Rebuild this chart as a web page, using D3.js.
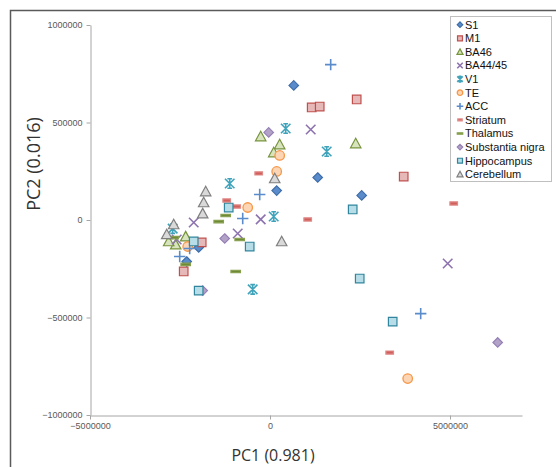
<!DOCTYPE html>
<html>
<head>
<meta charset="utf-8">
<script src="https://cdn.jsdelivr.net/npm/d3@7"></script>
<style>
  body { margin: 0; background: #fff; }
  svg { display: block; }
</style>
</head>
<body>
<div id="chart"></div>
<script>
// PCA scores per tissue, [PC1, PC2]
const S1 = [[660000, 690000], [1325000, 218000], [186000, 151000], [2547000, 126000], [-1981000, -141000], [-2314000, -213000]];
const M1 = [[1158000, 577000], [1381000, 582000], [2408000, 618000], [3714000, 223000], [-1897000, -115000], [-2397000, -264000]];
const BA46 = [[-258000, 428000], [269000, 387000], [103000, 346000], [2381000, 392000], [-2342000, -85000], [-2619000, -126000], [-2814000, -110000]];
const BA4445 = [[1131000, 464000], [4936000, -223000], [-258000, 3000], [-897000, -69000], [-2119000, -13000], [-2592000, -100000]];
const V1 = [[436000, 469000], [1575000, 351000], [-1119000, 187000], [103000, 18000], [-481000, -356000], [-2703000, -44000]];
const TE = [[269000, 331000], [186000, 249000], [-619000, 64000], [3825000, -813000], [-2286000, -136000]];
const ACC = [[1686000, 797000], [-286000, 131000], [-758000, 8000], [4186000, -480000], [-2508000, -187000], [-2231000, -146000]];
const Striatum = [[-314000, 239000], [-1203000, 100000], [-925000, 69000], [1047000, 3000], [5103000, 85000], [3325000, -680000]];
const Thalamus = [[-1231000, 23000], [-1425000, -8000], [-842000, -100000], [-953000, -264000], [-2342000, -228000], [-2675000, -90000]];
const SubstantiaNigra = [[-36000, 449000], [-1258000, -95000], [6325000, -628000], [-1869000, -362000]];
const Hippocampus = [[-1147000, 64000], [-564000, -136000], [2297000, 54000], [2492000, -300000], [3408000, -521000], [-2119000, -110000], [-1981000, -362000]];
const Cerebellum = [[-1786000, 146000], [-1842000, 90000], [-1869000, 33000], [-2675000, -23000], [-2869000, -74000], [131000, 213000], [325000, -110000]];

const seriesNames = ["S1", "M1", "BA46", "BA44/45", "V1", "TE", "ACC", "Striatum", "Thalamus", "Substantia nigra", "Hippocampus", "Cerebellum"];
const seriesData = [S1, M1, BA46, BA4445, V1, TE, ACC, Striatum, Thalamus, SubstantiaNigra, Hippocampus, Cerebellum];
const xTicks = [-5000000, 0, 5000000];
const yTicks = [-1000000, -500000, 0, 500000, 1000000];

// marker look for each series
const markers = [
  { shape: "diamond", fill: "#5a8ccb", stroke: "#3e6ea9" },
  { shape: "square", fill: "#e6b9b8", stroke: "#c0504d" },
  { shape: "triangle", fill: "#d7e4bd", stroke: "#77933c" },
  { shape: "x", fill: "none", stroke: "#8d73b0" },
  { shape: "star", fill: "none", stroke: "#3fa3bb" },
  { shape: "circle", fill: "#fcd5b5", stroke: "#f79646" },
  { shape: "plus", fill: "none", stroke: "#5a8ccb" },
  { shape: "dash", fill: "#d0605c", stroke: "#e08a88" },
  { shape: "bar", fill: "#6e8a36", stroke: "#86a04e" },
  { shape: "diamond", fill: "#b3a2c7", stroke: "#9680b5" },
  { shape: "square", fill: "#b7dde8", stroke: "#31859c" },
  { shape: "triangle", fill: "#d9d9d9", stroke: "#7f7f7f" }
];

function markerPath(shape, s) {
  switch (shape) {
    case "diamond": return `M0,${-5*s}L${5*s},0L0,${5*s}L${-5*s},0Z`;
    case "square": return `M${-4.5*s},${-4.5*s}h${9*s}v${9*s}h${-9*s}Z`;
    case "triangle": return `M0,${-5.5*s}L${5.5*s},${4.5*s}L${-5.5*s},${4.5*s}Z`;
    case "x": return `M${-5*s},${-5*s}L${5*s},${5*s}M${-5*s},${5*s}L${5*s},${-5*s}`;
    case "star": return `M${-5*s},${-5*s}L${5*s},${5*s}M${-5*s},${5*s}L${5*s},${-5*s}M0,${-5*s}L0,${5*s}M${-2.5*s},${-5*s}L${2.5*s},${-5*s}M${-2.5*s},${5*s}L${2.5*s},${5*s}`;
    case "plus": return `M${-6*s},0L${6*s},0M0,${-6*s}L0,${6*s}`;
    case "dash": return `M${-4*s},${-1.7*s}h${8*s}v${3.4*s}h${-8*s}Z`;
    case "bar": return `M${-5*s},${-1.3*s}h${10*s}v${2.6*s}h${-10*s}Z`;
  }
  return "";
}

function drawMarker(sel, m, s) {
  if (m.shape === "circle") {
    sel.append("circle").attr("r", 5 * s)
      .attr("fill", m.fill).attr("stroke", m.stroke).attr("stroke-width", 1.3);
  } else {
    const line = m.fill === "none";
    sel.append("path").attr("d", markerPath(m.shape, s))
      .attr("fill", m.fill).attr("stroke", m.stroke)
      .attr("stroke-width", line ? 1.6 : 1.2);
  }
}

const width = 556, height = 467;
const svg = d3.select("#chart").append("svg")
  .attr("width", width).attr("height", height);

// outer chart frame (cut off by the window at right and bottom)
svg.append("path")
  .attr("d", `M10.5,${height}V10.5H${width}`)
  .attr("fill", "none").attr("stroke", "#5a5a5a").attr("stroke-width", 1.5);

const x = d3.scaleLinear().domain([-5000000, 7000000]).range([90, 522]);
const y = d3.scaleLinear().domain([-1000000, 1000000]).range([415, 25]);

const axisColor = "#a6a6a6";

const yAxis = svg.append("g").attr("transform", "translate(90.5,0)")
  .call(d3.axisLeft(y).tickValues(yTicks).tickFormat(d3.format("d")).tickSize(4).tickSizeOuter(0).tickPadding(4));
const xAxis = svg.append("g").attr("transform", `translate(0,${y(-1000000) + 0.5})`)
  .call(d3.axisBottom(x).tickValues(xTicks).tickFormat(d3.format("d")).tickSize(4).tickSizeOuter(0).tickPadding(3));

[xAxis, yAxis].forEach(a => {
  a.select(".domain").attr("stroke", axisColor);
  a.selectAll(".tick line").attr("stroke", axisColor);
  a.selectAll(".tick text")
    .attr("fill", "#595959")
    .style("font-family", "'Liberation Sans', Arial, sans-serif")
    .style("font-size", "9px");
});

// axis titles
svg.append("text")
  .attr("x", 273).attr("y", 461)
  .attr("text-anchor", "middle")
  .style("font-family", "'Open Sans', sans-serif")
  .style("font-size", "16px")
  .attr("fill", "#333")
  .text("PC1 (0.981)");

svg.append("text")
  .attr("transform", "translate(40,164) rotate(-90)")
  .attr("text-anchor", "middle")
  .style("font-family", "'Open Sans', sans-serif")
  .style("font-size", "18px")
  .attr("fill", "#333")
  .text("PC2 (0.016)");

// points
const plot = svg.append("g");
seriesData.forEach((pts, i) => {
  plot.append("g").selectAll("g")
    .data(pts)
    .join("g")
    .attr("transform", d => `translate(${x(d[0])},${y(d[1])})`)
    .each(function () { drawMarker(d3.select(this), markers[i], 0.95); });
});

// legend
const legend = svg.append("g");
legend.append("rect")
  .attr("x", 450.5).attr("y", 16.5)
  .attr("width", 101).attr("height", 165)
  .attr("fill", "#fff").attr("stroke", "#bfbfbf");

const rows = legend.selectAll("g.row")
  .data(seriesNames)
  .join("g")
  .attr("class", "row")
  .attr("transform", (d, i) => `translate(460,${24.7 + i * 13.6})`);

rows.each(function (d, i) { drawMarker(d3.select(this), markers[i], 0.55); });

rows.append("text")
  .attr("x", 5).attr("dy", "0.36em")
  .style("font-family", "'Liberation Sans', Arial, sans-serif")
  .style("font-size", "11px")
  .attr("fill", "#111")
  .text(d => d);
</script>
</body>
</html>
